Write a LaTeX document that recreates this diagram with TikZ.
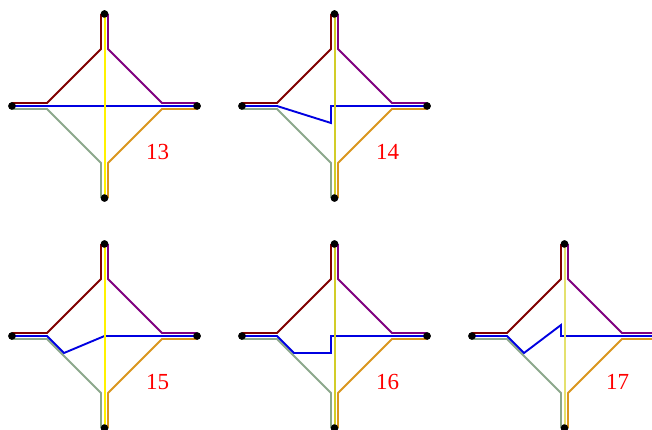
\documentclass[tikz,border=0pt]{standalone}
\usepackage{fontspec}
\setmainfont{Liberation Serif}

\definecolor{armbrown}{RGB}{128,0,0}
\definecolor{armpurple}{RGB}{128,0,128}
\definecolor{armgreen}{RGB}{140,168,140}
\definecolor{armorange}{RGB}{218,150,30}
\definecolor{routeblue}{RGB}{0,0,225}
\definecolor{ylwdark}{RGB}{210,205,40}
\definecolor{ylwpale}{RGB}{228,225,110}

\tikzset{
  arm/.style={line width=1.8pt},
  route/.style={routeblue, line width=1.9pt},
  spine/.style={line width=2pt},
  endpt/.style={circle, fill=black, inner sep=0pt, minimum size=7.5pt},
  tag/.style={red, font=\fontsize{23}{23}\selectfont}
}

% #1 name, #2 centre, #3 label, #4 colour of the vertical, #5 blue detour
\newcommand{\crossing}[5]{%
  \begin{scope}[shift={#2}]
    \node[endpt] (#1w) at (-92.5,0) {};
    \node[endpt] (#1e) at (92.5,0) {};
    \node[endpt] (#1n) at (0,-92) {};
    \node[endpt] (#1s) at (0,92) {};
    % the four arms
    \draw[arm, armbrown] (-92.5,-3) -- (-57.5,-3) -- (-3.5,-57) -- (-3.5,-92);
    \draw[arm, armpurple] (3.5,-92) -- (3.5,-57) -- (57.5,-3) -- (92.5,-3);
    \draw[arm, armgreen] (-92.5,3) -- (-57.5,3) -- (-3.5,57) -- (-3.5,92);
    \draw[arm, armorange] (92.5,3) -- (57.5,3) -- (3.5,57) -- (3.5,92);
    % blue route, then the vertical on top
    \draw[route] (#1w.center) #5 -- (#1e.center);
    \draw[spine, #4] (#1n.center) -- (#1s.center);
    \node[endpt] at (#1w) {};
    \node[endpt] at (#1e) {};
    \node[endpt] at (#1n) {};
    \node[endpt] at (#1s) {};
    \node[tag] (#1tag) at (53,46) {#3};
  \end{scope}
}

\begin{document}
\begin{tikzpicture}[x=1pt, y=-1pt]
  \useasboundingbox (0,0) rectangle (652,430);

  % top row
  \crossing{a}{(104.5,106)}{13}{yellow}{}
  \crossing{b}{(334.5,106)}{14}{ylwdark}{-- (-57.5,0) -- (-3.5,17) -- (-3.5,0)}

  % bottom row
  \crossing{c}{(104.5,336)}{15}{yellow}{-- (-57.5,0) -- (-40.5,17) -- (0,0)}
  \crossing{d}{(334.5,336)}{16}{ylwdark}{-- (-57.5,0) -- (-40.5,17) -- (-3.5,17) -- (-3.5,0)}
  \crossing{e}{(564.5,336)}{17}{ylwpale}{-- (-57.5,0) -- (-40.5,17) -- (-3.5,-11) -- (-3.5,0)}
\end{tikzpicture}
\end{document}
